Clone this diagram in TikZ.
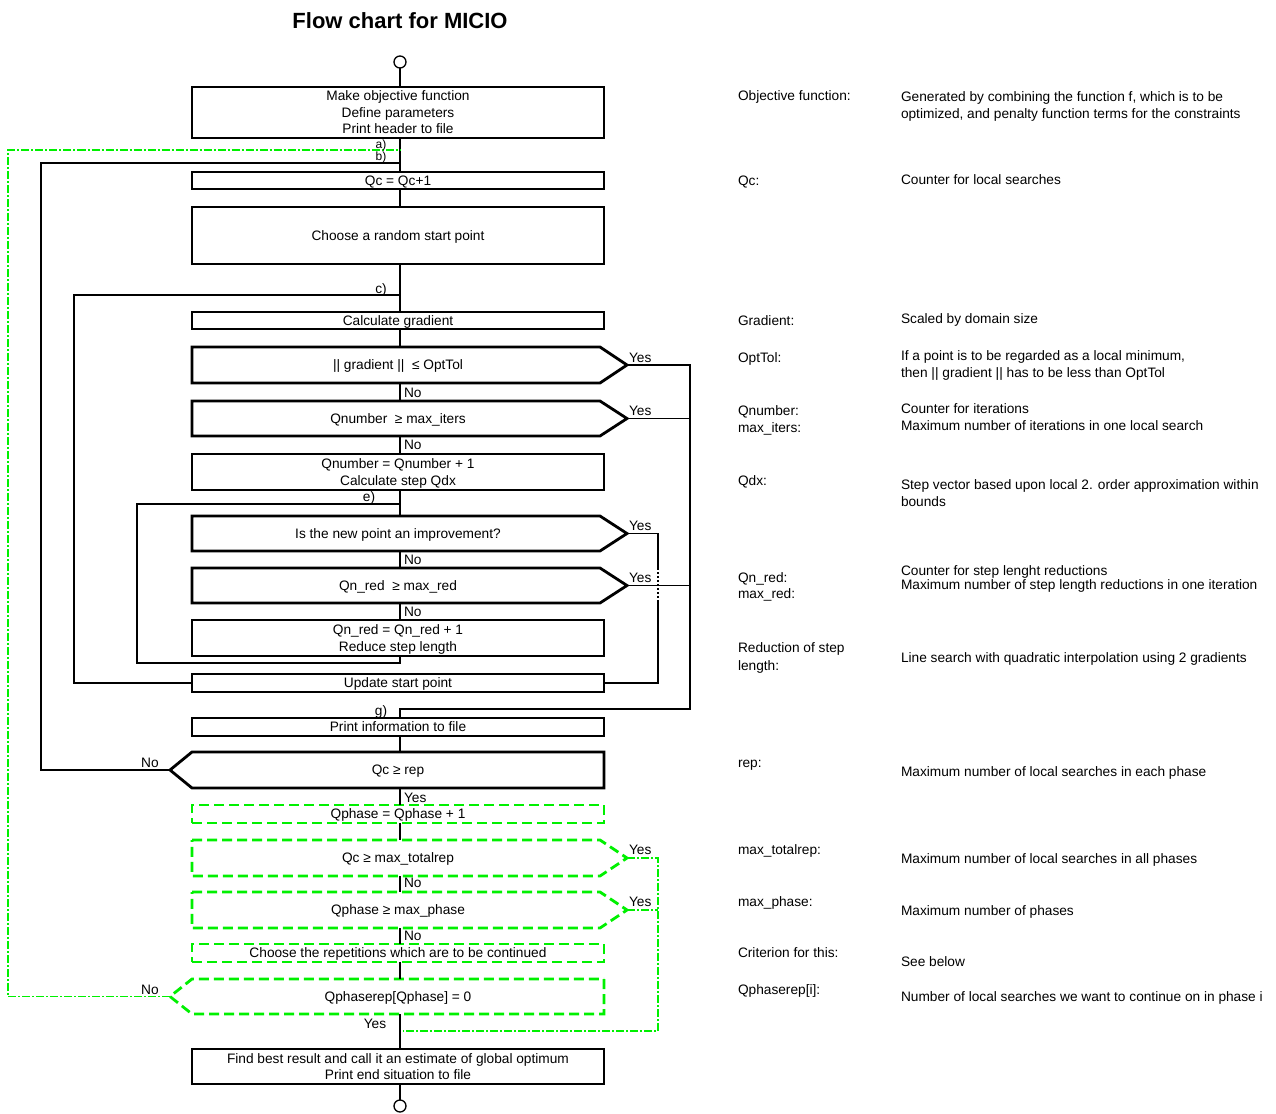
\documentclass[tikz,border=0pt]{standalone}
\usepackage{fontspec}
\setmainfont{Liberation Sans}
\definecolor{lime}{RGB}{0,240,0}
\begin{document}
\begin{tikzpicture}[x=1pt,y=-1pt,
  every node/.style={font=\fontsize{13.7}{16.5}\selectfont, inner sep=0pt, outer sep=0pt},
  box/.style={draw, line width=2.8pt, minimum width=412pt, align=center, text depth=0pt},
  gbox/.style={draw=lime, line width=2.8pt, dash pattern=on 10pt off 5pt, minimum width=412pt, align=center, text depth=0pt},
  dec/.style={minimum width=412pt, align=center, text depth=0pt},
  outl/.style={line width=2.8pt, line join=miter},
  goutl/.style={draw=lime, line width=2.8pt, dash pattern=on 10pt off 5pt},
  conn/.style={line width=1.8pt},
  gconn/.style={draw=lime, line width=1.5pt, dash pattern=on 8pt off 2pt on 2pt off 2pt},
  lbl/.style={anchor=base west},
  clbl/.style={anchor=base},
  slbl/.style={anchor=base, font=\fontsize{12}{14}\selectfont},
  side/.style={anchor=base west, align=left, font=\fontsize{13.7}{17}\selectfont},
  term/.style={circle, draw, line width=1.3pt, minimum size=12pt}
]
\useasboundingbox (0,0) rectangle (1276,1113);

% title
\node[font=\bfseries\fontsize{22}{26}\selectfont] (title) at (400,21) {Flow chart for MICIO};

\coordinate (cx) at (400,0);

% terminals
\node[term] (st) at (400,62) {};
\node[term] (en) at (400,1106) {};

% boxes
\node[box, minimum height=51pt] (b1) at (398,112.5) {Make objective function\\Define parameters\\Print header to file};
\node[box, minimum height=17pt] (b2) at (398,180.5) {Qc = Qc+1};
\node[box, minimum height=57pt] (b3) at (398,235.5) {Choose a random start point};
\node[box, minimum height=17pt] (b4) at (398,320.5) {Calculate gradient};
\node[box, minimum height=36pt] (b5) at (398,472) {Qnumber = Qnumber + 1\\Calculate step Qdx};
\node[box, minimum height=36pt] (b6) at (398,638) {Qn\_red = Qn\_red + 1\\Reduce step length};
\node[box, minimum height=18pt] (b7) at (398,683) {Update start point};
\node[box, minimum height=18pt] (b8) at (398,727) {Print information to file};
\node[box, minimum height=35pt] (b9) at (398,1066.5) {Find best result and call it an estimate of global optimum\\Print end situation to file};

\node[gbox, minimum height=18pt] (g1) at (398,814) {Qphase = Qphase + 1};
\node[gbox, minimum height=18pt] (g2) at (398,953) {Choose the repetitions which are to be continued};

% decisions (right pointing)
\node[dec, minimum height=36pt] (d1) at (398,365) {|| gradient ||~~≤ OptTol};
\draw[outl] (d1.north west) -- ([xshift=-4pt]d1.north east) -- ([xshift=23pt]d1.east) coordinate (d1t) -- ([xshift=-4pt]d1.south east) -- (d1.south west) -- cycle;
\node[dec, minimum height=35pt] (d2) at (398,418.5) {Qnumber~~≥ max\_iters};
\draw[outl] (d2.north west) -- ([xshift=-4pt]d2.north east) -- ([xshift=23pt]d2.east) coordinate (d2t) -- ([xshift=-4pt]d2.south east) -- (d2.south west) -- cycle;
\node[dec, minimum height=35pt] (d3) at (398,533.5) {Is the new point an improvement?};
\draw[outl] (d3.north west) -- ([xshift=-4pt]d3.north east) -- ([xshift=23pt]d3.east) coordinate (d3t) -- ([xshift=-4pt]d3.south east) -- (d3.south west) -- cycle;
\node[dec, minimum height=35pt] (d4) at (398,585.5) {Qn\_red~~≥ max\_red};
\draw[outl] (d4.north west) -- ([xshift=-4pt]d4.north east) -- ([xshift=23pt]d4.east) coordinate (d4t) -- ([xshift=-4pt]d4.south east) -- (d4.south west) -- cycle;

% decision (left pointing)
\node[dec, minimum height=36pt] (d5) at (398,770) {Qc ≥ rep};
\draw[outl] (d5.north east) -- (d5.south east) -- (d5.south west) -- ([xshift=-22pt]d5.west) coordinate (d5t) -- (d5.north west) -- cycle;

% green decisions
\node[dec, minimum height=36pt] (gd1) at (398,858) {Qc ≥ max\_totalrep};
\draw[goutl] (gd1.north west) -- ([xshift=-4pt]gd1.north east) -- ([xshift=23pt]gd1.east) coordinate (gd1t) -- ([xshift=-4pt]gd1.south east) -- (gd1.south west) -- cycle;
\node[dec, minimum height=36pt] (gd2) at (398,910) {Qphase ≥ max\_phase};
\draw[goutl] (gd2.north west) -- ([xshift=-4pt]gd2.north east) -- ([xshift=23pt]gd2.east) coordinate (gd2t) -- ([xshift=-4pt]gd2.south east) -- (gd2.south west) -- cycle;
\node[dec, minimum height=35pt] (gd3) at (398,996.5) {Qphaserep[Qphase] = 0};
\draw[goutl] (gd3.north east) -- (gd3.south east) -- (gd3.south west) -- ([xshift=-22pt]gd3.west) coordinate (gd3t) -- (gd3.north west) -- cycle;

% junction coordinates
\coordinate (ja) at (400,150);
\coordinate (jb) at (400,163);
\coordinate (jc) at (400,295);
\coordinate (je) at (400,504);
\coordinate (jf) at (400,663);
\coordinate (jg) at (400,709);
\coordinate (jy) at (403,1031);

% main vertical connectors
\draw[conn] (st) -- (cx |- b1.north);
\draw[conn] (cx |- b1.south) -- (cx |- b2.north);
\draw[conn] (cx |- b2.south) -- (cx |- b3.north);
\draw[conn] (cx |- b3.south) -- (cx |- b4.north);
\draw[conn] (cx |- b4.south) -- (cx |- d1.north);
\draw[conn] (cx |- d1.south) -- (cx |- d2.north);
\draw[conn] (cx |- d2.south) -- (cx |- b5.north);
\draw[conn] (cx |- b5.south) -- (cx |- d3.north);
\draw[conn] (cx |- d3.south) -- (cx |- d4.north);
\draw[conn] (cx |- d4.south) -- (cx |- b6.north);
\draw[conn] (cx |- b8.south) -- (cx |- d5.north);
\draw[conn] (cx |- d5.south) -- (cx |- g1.north);
\draw[conn] (cx |- g1.south) -- (cx |- gd1.north);
\draw[conn] (cx |- gd1.south) -- (cx |- gd2.north);
\draw[conn] (cx |- gd2.south) -- (cx |- g2.north);
\draw[conn] (cx |- g2.south) -- (cx |- gd3.north);
\draw[conn] (cx |- gd3.south) -- (cx |- b9.north);
\draw[conn] (cx |- b9.south) -- (en);

% loops
\draw[conn] (d5t) -| (41,163) -- (jb);
\draw[conn] (b7.west) -| (74,295) -- (jc);
\draw[conn] (cx |- b6.south) -- (jf) -| (137,504) -- (je);
\draw[conn] (d1t) -| (690,709) -- (jg) -- (cx |- b8.north);
\draw[conn] (d2t) -- (690,418.5);
\draw[conn] (d4t) -- (690,585.5);
\draw[conn] (d3t) -| (658,568);
\draw[conn, dash pattern=on 2pt off 2pt] (658,568) -- (658,602);
\draw[conn] (658,602) |- (b7.east);

% green loops
\draw[gconn] (gd3t) -| (8,150) -- (ja);
\draw[gconn] (gd1t) -| (658,1031) -- (jy);
\draw[gconn] (gd2t) -- (658,910);

% junction labels
\node[slbl] (la) at (381,148) {a)};
\node[slbl] (lb) at (381,160) {b)};
\node[clbl] (lc) at (381,293) {c)};
\node[clbl] (le) at (369,501) {e)};
\node[clbl] (lg) at (381,715) {g)};

% yes / no labels
\node[lbl] (y1) at (629,362) {Yes};
\node[lbl] (y2) at (629,415) {Yes};
\node[lbl] (y3) at (629,530) {Yes};
\node[lbl] (y4) at (629,582) {Yes};
\node[lbl] (y5) at (629,854) {Yes};
\node[lbl] (y6) at (629,906) {Yes};
\node[lbl] (n1) at (404,397) {No};
\node[lbl] (n2) at (404,449) {No};
\node[lbl] (n3) at (404,564) {No};
\node[lbl] (n4) at (404,616) {No};
\node[lbl] (y7) at (404,802) {Yes};
\node[lbl] (n5) at (404,887) {No};
\node[lbl] (n6) at (404,940) {No};
\node[clbl] (y8) at (375,1028) {Yes};
\node[clbl] (n7) at (150,767) {No};
\node[clbl] (n8) at (150,994) {No};

% side notes (base anchor = baseline of last line)
\node[side] (s1) at (738,101) {Objective function:};
\node[side] (t1) at (901,118) {Generated by combining the function f, which is to be\\optimized, and penalty function terms for the constraints};
\node[side] (s2) at (738,185) {Qc:};
\node[side] (t2) at (901,184) {Counter for local searches};
\node[side] (s3) at (738,325) {Gradient:};
\node[side] (t3) at (901,323) {Scaled by domain size};
\node[side] (s4) at (738,362) {OptTol:};
\node[side] (t4) at (901,377) {If a point is to be regarded as a local minimum,\\then || gradient || has to be less than OptTol};
\node[side] (s5) at (738,432) {Qnumber:\\max\_iters:};
\node[side] (t5) at (901,430) {Counter for iterations\\Maximum number of iterations in one local search};
\node[side] (s6) at (738,485) {Qdx:};
\node[side] (t6) at (901,506) {Step vector based upon local 2. order approximation within\\bounds};
\node[side, font=\fontsize{13.7}{16}\selectfont] (s7) at (738,598) {Qn\_red:\\max\_red:};
\node[side, font=\fontsize{13.7}{14.5}\selectfont] (t7) at (901,589.5) {Counter for step lenght reductions\\Maximum number of step length reductions in one iteration};
\node[side, font=\fontsize{13.7}{18}\selectfont] (s8) at (738,670) {Reduction of step\\length:};
\node[side] (t8) at (901,662) {Line search with quadratic interpolation using 2 gradients};
\node[side] (s9) at (738,767) {rep:};
\node[side] (t9) at (901,776) {Maximum number of local searches in each phase};
\node[side] (s10) at (738,854) {max\_totalrep:};
\node[side] (t10) at (901,863) {Maximum number of local searches in all phases};
\node[side] (s11) at (738,906) {max\_phase:};
\node[side] (t11) at (901,915) {Maximum number of phases};
\node[side] (s12) at (738,957) {Criterion for this:};
\node[side] (t12) at (901,966) {See below};
\node[side] (s13) at (738,994) {Qphaserep[i]:};
\node[side] (t13) at (901,1001) {Number of local searches we want to continue on in phase i};
\end{tikzpicture}
\end{document}
